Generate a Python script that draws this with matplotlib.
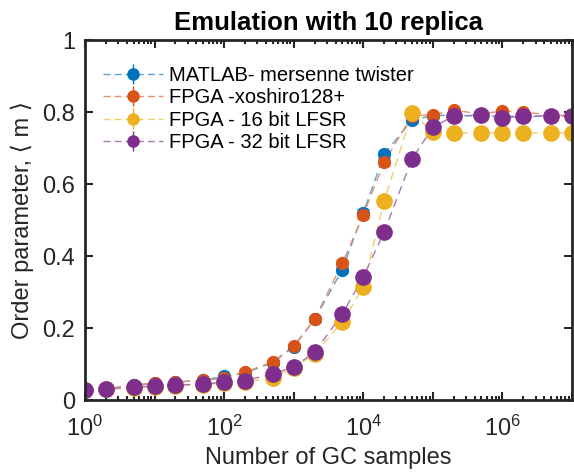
import numpy as np
import matplotlib as mpl
mpl.use('Agg')
import matplotlib.pyplot as plt
from matplotlib.colors import to_rgb
from matplotlib.ticker import LogLocator, NullFormatter

plt.rcParams['font.family'] = ['Liberation Sans', 'DejaVu Sans']
plt.rcParams['mathtext.fontset'] = 'custom'
plt.rcParams['mathtext.rm'] = 'Liberation Sans'

# data
samples = [1, 2, 5, 10, 20, 50, 100, 200, 500, 1e3, 2e3, 5e3, 1e4, 2e4, 5e4,
           1e5, 2e5, 5e5, 1e6, 2e6, 5e6, 1e7]
matlab_mt = [0.028, 0.031, 0.041, 0.046, 0.050, 0.055, 0.066, 0.075, 0.104, 0.148, 0.224,
             0.362, 0.520, 0.683, 0.778, 0.790, 0.792, 0.788, 0.790, 0.786, 0.790, 0.789]
matlab_err = [0.003, 0.003, 0.003, 0.003, 0.003, 0.004, 0.005, 0.005, 0.006, 0.006, 0.007,
              0.010, 0.010, 0.010, 0.008, 0.005, 0.005, 0.005, 0.005, 0.005, 0.005, 0.005]
xoshiro = [0.028, 0.031, 0.042, 0.047, 0.050, 0.055, 0.060, 0.077, 0.106, 0.150, 0.225,
           0.380, 0.514, 0.661, 0.790, 0.792, 0.805, 0.795, 0.803, 0.800, 0.792, 0.790]
xoshiro_err = [0.003, 0.003, 0.003, 0.003, 0.003, 0.004, 0.005, 0.005, 0.006, 0.006, 0.007,
               0.010, 0.010, 0.010, 0.008, 0.005, 0.005, 0.005, 0.005, 0.005, 0.005, 0.005]
lfsr16 = [0.028, 0.030, 0.034, 0.037, 0.040, 0.042, 0.048, 0.050, 0.061, 0.090, 0.128,
          0.217, 0.314, 0.553, 0.797, 0.745, 0.742, 0.742, 0.742, 0.742, 0.742, 0.742]
lfsr16_err = [0.002] * 22
lfsr32 = [0.028, 0.030, 0.036, 0.039, 0.042, 0.044, 0.050, 0.054, 0.072, 0.092, 0.133,
          0.239, 0.342, 0.467, 0.669, 0.758, 0.789, 0.792, 0.783, 0.789, 0.790, 0.790]
lfsr32_err = [0.002] * 22

labels = ['MATLAB- mersenne twister', 'FPGA -xoshiro128+', 'FPGA - 16 bit LFSR', 'FPGA - 32 bit LFSR']
colors = ['#0072BD', '#D95319', '#EDB120', '#7E2F8E']
sizes = [8.5, 8.5, 11, 11]


def lighter(c, f=0.35):
    r, g, b = to_rgb(c)
    return (r + (1 - r) * f, g + (1 - g) * f, b + (1 - b) * f)


fig = plt.figure(figsize=(5.74, 4.72), dpi=100)
ax = fig.add_axes([0.148, 0.1525, 0.8485, 0.7625])

series = [(matlab_mt, matlab_err), (xoshiro, xoshiro_err), (lfsr16, lfsr16_err), (lfsr32, lfsr32_err)]
handles = []
for (y, e), lab, c, ms in zip(series, labels, colors, sizes):
    ax.errorbar(samples, y, yerr=e, fmt='o', color=c, ms=ms, ecolor=lighter(c, 0.2),
                elinewidth=1, capsize=4)
    ax.plot(samples, y, '--', color=lighter(c), lw=1, dashes=(6, 4), zorder=1)
    # legend entry: dashed line + marker + error bar
    h = ax.errorbar([], [], yerr=[], fmt='o--', color=lighter(c), mfc=c, mec=c, ms=8,
                    ecolor=c, elinewidth=1, capsize=4, lw=1, dashes=(5, 3), label=lab)
    handles.append(h)

ax.set_xscale('log')
ax.set_xlim(1, 1e7)
ax.set_ylim(0, 1)
ax.set_xticks([10.0**k for k in range(8)])
ax.set_xticklabels(['$\\mathregular{10^{%d}}$' % k if k % 2 == 0 else '' for k in range(8)])
ax.xaxis.set_minor_locator(LogLocator(base=10, subs=np.arange(2, 10), numticks=20))
ax.xaxis.set_minor_formatter(NullFormatter())
ax.set_yticks([0, 0.2, 0.4, 0.6, 0.8, 1])
ax.set_yticklabels(['0', '0.2', '0.4', '0.6', '0.8', '1'])

ax.tick_params(which='both', direction='in', top=True, right=True, labelsize=17, width=1.5,
               colors='#262626')
ax.tick_params(which='major', length=6, pad=7)
ax.tick_params(axis='x', which='major', pad=11)
ax.tick_params(which='minor', length=3)
for s in ax.spines.values():
    s.set_linewidth(2)
    s.set_color('#262626')

ax.set_xlabel('Number of GC samples', fontsize=17, labelpad=5, color='#262626')
ax.set_ylabel('Order parameter, \u27e8 m \u27e9', fontsize=17, labelpad=6, color='#262626',
              family=['Liberation Sans', 'DejaVu Sans'])
ax.set_title('Emulation with 10 replica', fontsize=18.5, fontweight='bold', pad=7)

ax.legend(handles=handles, loc='upper left', frameon=False, fontsize=14.5, handlelength=3.0,
          handletextpad=0.3, labelspacing=0.16, borderaxespad=0.0,
          bbox_to_anchor=(0.02, 0.95))

fig.savefig('out.png', dpi=100)
